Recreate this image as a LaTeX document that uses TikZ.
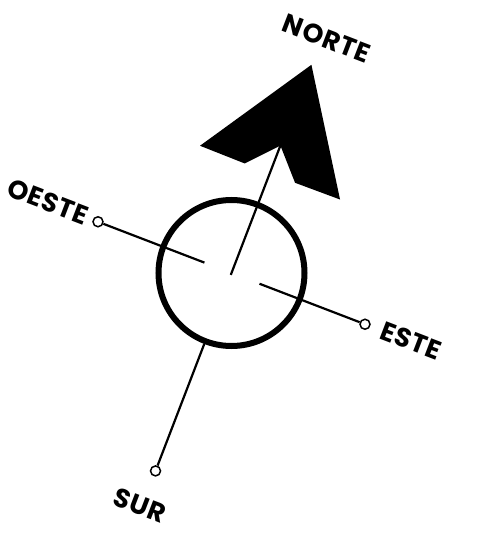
\documentclass[tikz,border=0pt]{standalone}
\usepackage{fontspec}
\setmainfont{Poppins}
\newfontfamily\rotulofont{Poppins}[LetterSpace=3]
\usepackage{tikz}
\usetikzlibrary{positioning}

\begin{document}
\begin{tikzpicture}[
    x=1pt, y=1pt,
    rosa/.style={
        circle,
        draw=black,
        line width=6pt,
        minimum size=146pt,
        inner sep=0pt
    },
    punta/.style={
        circle,
        draw=black,
        fill=white,
        line width=1.5pt,
        minimum size=10pt,
        inner sep=0pt
    },
    rotulo/.style={
        font=\rotulofont\fontsize{26.5}{30}\selectfont\bfseries,
        inner sep=0pt,
        transform shape
    },
    eje/.style={
        line width=2.2pt,
        black
    }
]
\useasboundingbox (-231.5,-263) rectangle (257.5,273);

\begin{scope}[rotate=-21]

% === NODES ===

% Circulo central
\node[rosa] (rosa) at (0,0) {};

% Flecha norte
\coordinate (centro) at (0,-2);
\coordinate (muesca) at (0,136.5);
\fill[black] (0,223) -- (75,107.5) -- (27,107) -- (muesca)
    -- (-27,107) -- (-75,107.5) -- cycle;

% Extremos
\coordinate (oeste-in) at (-29,0);
\coordinate (este-in) at (30,0);
\node[punta] (oeste-fin) at (-143,0) {};
\node[punta] (este-fin) at (143,0) {};
\node[punta] (sur-fin) at (0,-212) {};

% Rotulos
\node[rotulo] (norte) at (5,253) {NORTE};
\node[rotulo] (oeste) at (-197,1) {OESTE};
\node[rotulo] (este) at (192,1) {ESTE};
\node[rotulo] (sur) at (-2,-250) {SUR};

% === ARROWS ===

% 1. Centro a la flecha
\draw[eje] (centro) -- (muesca);

% 2. Oeste y este
\draw[eje] (oeste-in) -- (oeste-fin);
\draw[eje] (este-in) -- (este-fin);

% 3. Sur
\draw[eje] (rosa) -- (sur-fin);

\end{scope}
\end{tikzpicture}
\end{document}
